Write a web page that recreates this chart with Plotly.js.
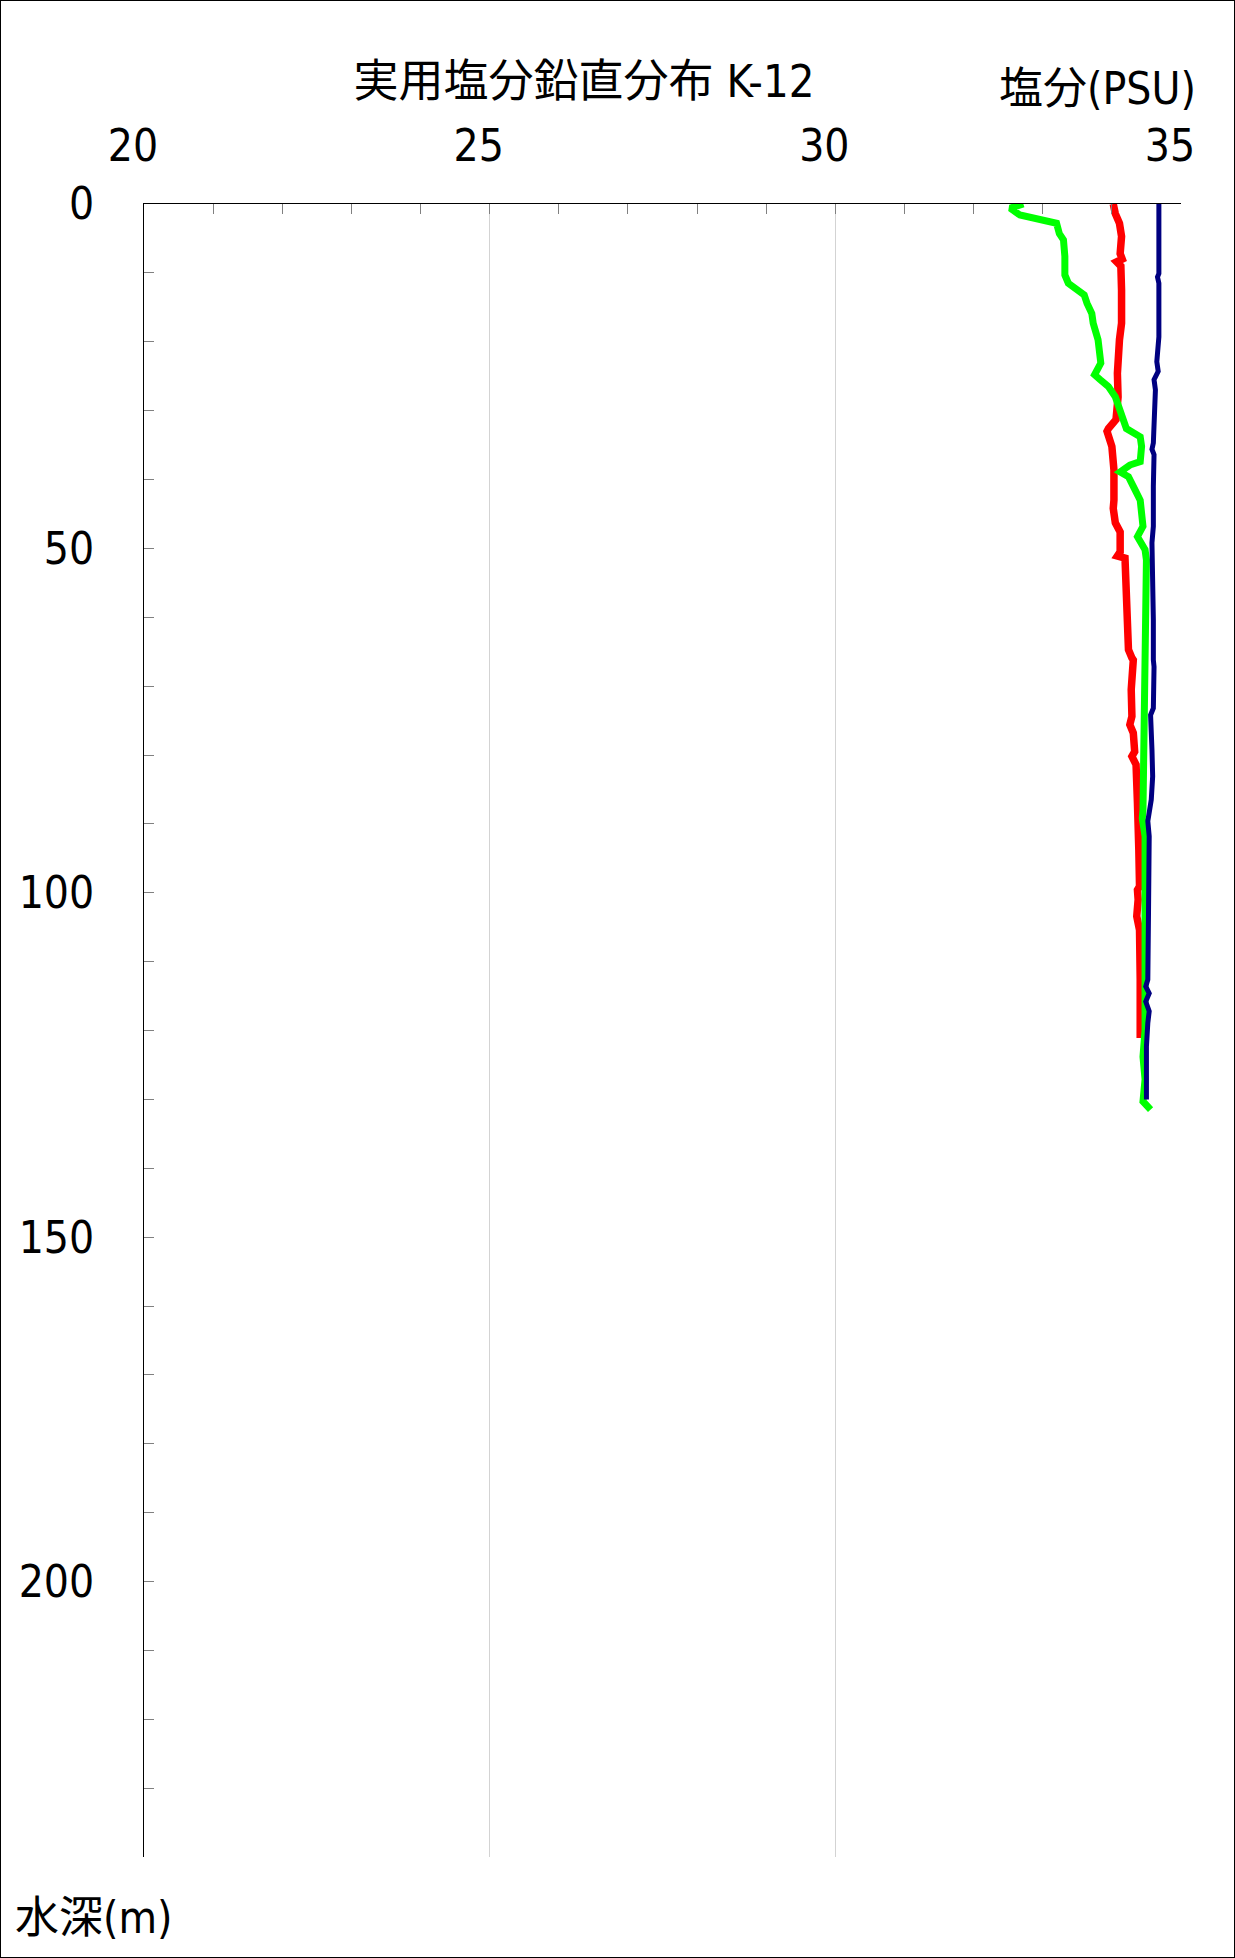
<!DOCTYPE html>
<html>
<head>
<meta charset="utf-8">
<script src="https://cdn.plot.ly/plotly-3.0.1.min.js"></script>
<style>
  html, body { margin: 0; padding: 0; background: #fff; }
  #wrap { position: relative; width: 1235px; height: 1958px; }
  #frame { position: absolute; left: 0; top: 0; width: 1235px; height: 1958px; box-sizing: border-box; border: 1px solid #000; pointer-events: none; }
</style>
</head>
<body>
<div id="wrap"><div id="chart"></div><div id="frame"></div></div>
<script>
// ---- data ----
const titleText = "実用塩分鉛直分布 K-12";
const xTitleText = "塩分(PSU)";
const yTitleText = "水深(m)";

// red profile
const redDepth = [0.0, 1.4, 2.8, 4.7, 7.2, 8.0, 8.4, 9.0, 12.5, 17.3, 19.7, 24.6, 28.0, 31.3, 32.6, 33.0, 35.2, 38.6, 43.0, 44.2, 46.3, 47.6, 50.5, 51.1, 51.4, 55.5, 61.3, 64.7, 65.9, 66.2, 70.5, 74.4, 75.6, 76.8, 79.5, 80.2, 81.4, 86.0, 87.0, 93.8, 99.1, 99.6, 101.0, 103.4, 105.4, 112.6, 121.1];
const redSal   = [34.02, 34.05, 34.11, 34.14, 34.12, 34.15, 34.07, 34.13, 34.14, 34.14, 34.11, 34.08, 34.09, 34.06, 33.95, 33.93, 34.00, 34.03, 34.03, 34.02, 34.05, 34.12, 34.12, 34.08, 34.19, 34.20, 34.21, 34.24, 34.29, 34.31, 34.28, 34.29, 34.26, 34.31, 34.33, 34.29, 34.35, 34.35, 34.37, 34.39, 34.40, 34.37, 34.38, 34.36, 34.40, 34.41, 34.41];

// green profile
const greenDepth = [0.0, 0.6, 1.6, 2.3, 2.8, 4.3, 5.2, 7.6, 10.3, 11.5, 12.5, 13.2, 14.4, 15.9, 17.3, 18.3, 19.7, 23.1, 24.3, 24.8, 25.5, 26.5, 28.0, 29.9, 32.6, 33.8, 35.2, 37.4, 37.9, 38.9, 39.6, 41.0, 43.0, 44.9, 46.8, 48.3, 48.9, 50.2, 51.7, 60.4, 66.2, 69.6, 79.2, 88.0, 89.2, 91.8, 99.6, 107.8, 119.9, 123.8, 127.1, 130.3, 131.5];
const greenSal   = [32.72, 32.53, 32.67, 33.06, 33.20, 33.24, 33.30, 33.32, 33.32, 33.37, 33.49, 33.60, 33.64, 33.71, 33.73, 33.76, 33.80, 33.84, 33.76, 33.75, 33.83, 33.95, 34.05, 34.12, 34.21, 34.41, 34.43, 34.41, 34.26, 34.12, 34.24, 34.31, 34.41, 34.43, 34.45, 34.37, 34.41, 34.48, 34.50, 34.49, 34.49, 34.49, 34.46, 34.45, 34.44, 34.48, 34.48, 34.49, 34.48, 34.45, 34.48, 34.45, 34.56];

// navy profile
const blueDepth = [0.0, 10.1, 10.6, 11.5, 19.3, 21.7, 22.9, 24.3, 25.5, 27.0, 29.9, 32.6, 33.3, 34.7, 35.6, 36.4, 41.0, 46.8, 49.2, 53.1, 60.4, 66.2, 67.2, 73.2, 74.2, 79.2, 83.1, 86.5, 89.6, 91.8, 99.6, 102.9, 112.6, 113.6, 114.6, 115.8, 117.2, 118.9, 122.3, 130.0];
const blueSal   = [34.68, 34.68, 34.66, 34.68, 34.68, 34.67, 34.65, 34.67, 34.61, 34.63, 34.62, 34.61, 34.62, 34.60, 34.58, 34.61, 34.60, 34.60, 34.58, 34.59, 34.60, 34.60, 34.61, 34.60, 34.56, 34.58, 34.59, 34.57, 34.52, 34.54, 34.54, 34.53, 34.52, 34.49, 34.54, 34.49, 34.54, 34.52, 34.50, 34.50];

const xTickVals = [20, 25, 30, 35];
const yTickVals = [0, 50, 100, 150, 200];

// ---- chart ----
const FONT = "'Liberation Sans Narrow', 'DejaVu Sans Condensed', 'Noto Sans CJK JP', sans-serif";
const W = 1235, H = 1958;
const M = { l: 144, r: 54, t: 204, b: 101 };
const pw = W - M.l - M.r, ph = H - M.t - M.b;
const px2paperX = x => (x - M.l) / pw;
const py2paperY = y => (H - M.b - y) / ph;

const traces = [
  { x: redSal, y: redDepth, mode: 'lines', line: { color: '#ff0000', width: 7.5 }, hoverinfo: 'skip' },
  { x: greenSal, y: greenDepth, mode: 'lines', line: { color: '#00ff00', width: 7 }, hoverinfo: 'skip' },
  { x: blueSal, y: blueDepth, mode: 'lines', line: { color: '#000080', width: 5 }, hoverinfo: 'skip' }
];

const layout = {
  width: W, height: H,
  margin: M,
  paper_bgcolor: '#fff', plot_bgcolor: '#fff',
  showlegend: false,
  font: { family: FONT, color: '#000', size: 44 },
  title: {
    text: titleText,
    font: { family: FONT, size: 45, color: '#000' },
    x: 584 / W, xref: 'container', xanchor: 'center',
    y: 1 - 81 / H, yref: 'container', yanchor: 'middle'
  },
  xaxis: {
    side: 'top', range: [20, 35], tickmode: 'array', tickvals: xTickVals,
    ticks: 'inside', ticklen: 10, tickwidth: 1, tickcolor: '#808080',
    showgrid: true, gridcolor: '#d3d3d3', gridwidth: 1,
    showline: true, linecolor: '#000', linewidth: 1, mirror: false,
    zeroline: false,
    tickfont: { family: FONT, size: 44, color: '#000' },
    ticklabelstandoff: 24, ticklabelshift: -11,
    minor: { dtick: 1, tick0: 20, ticks: 'inside', ticklen: 10, tickwidth: 1, tickcolor: '#808080', showgrid: false }
  },
  yaxis: {
    range: [240, 0], tickmode: 'array', tickvals: yTickVals,
    ticks: 'inside', ticklen: 10, tickwidth: 1, tickcolor: '#808080',
    showgrid: false,
    showline: true, linecolor: '#000', linewidth: 1, mirror: false,
    zeroline: false,
    tickfont: { family: FONT, size: 44, color: '#000' },
    ticklabelstandoff: 40,
    minor: { dtick: 10, tick0: 0, ticks: 'inside', ticklen: 10, tickwidth: 1, tickcolor: '#808080', showgrid: false }
  },
  annotations: [
    { text: xTitleText, xref: 'paper', yref: 'paper', x: px2paperX(1198), y: py2paperY(88),
      xanchor: 'right', yanchor: 'middle', showarrow: false, font: { family: FONT, size: 44, color: '#000' } },
    { text: yTitleText, xref: 'paper', yref: 'paper', x: px2paperX(13), y: py2paperY(1917),
      xanchor: 'left', yanchor: 'middle', showarrow: false, font: { family: FONT, size: 44, color: '#000' } }
  ]
};

Plotly.newPlot('chart', traces, layout, { staticPlot: true, displayModeBar: false });
</script>
</body>
</html>
